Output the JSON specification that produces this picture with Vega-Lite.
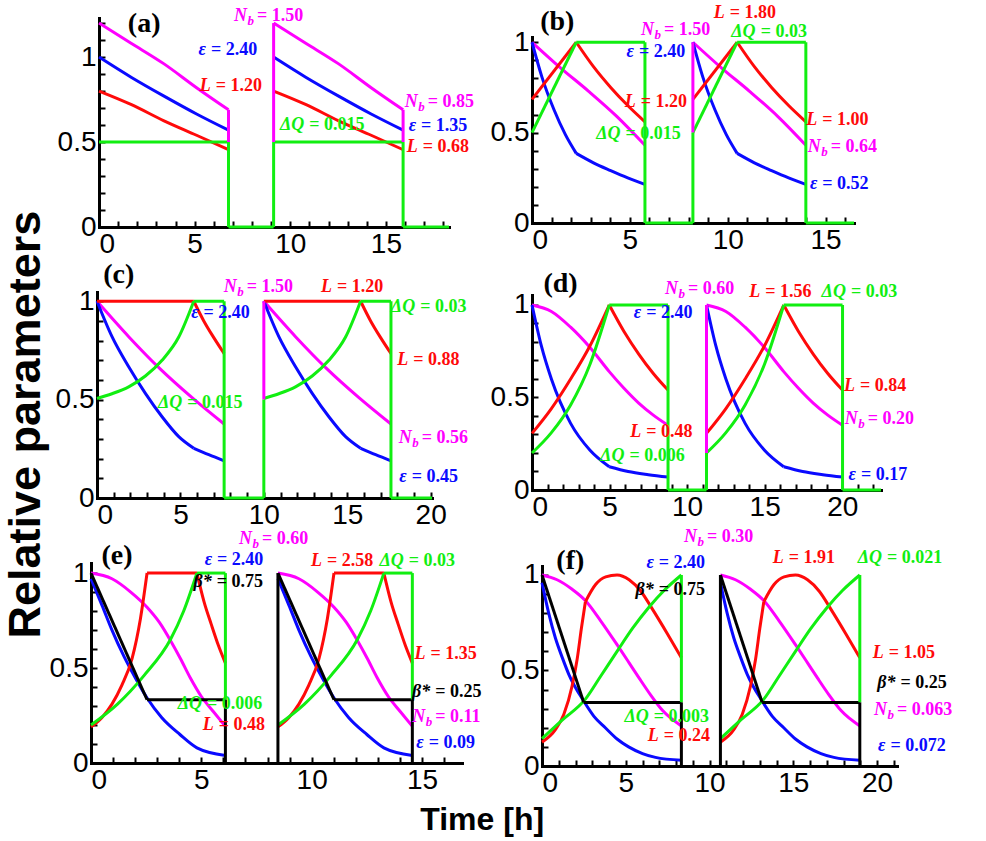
{
"$schema": "https://vega.github.io/schema/vega-lite/v6.json",
"background": "white",
"padding": {"left": 4, "top": 4, "right": 5, "bottom": 5},
"datasets": {
"aL": [
{"s":"Nb","g":1,"t":0,"v":1.2},{"s":"Nb","g":1,"t":1.7,"v":1.08},{"s":"Nb","g":1,"t":3.4,"v":0.96},{"s":"Nb","g":1,"t":5.1,"v":0.82},{"s":"Nb","g":1,"t":6.77,"v":0.69},
{"s":"Nb","g":2,"t":9.13,"v":1.2},{"s":"Nb","g":2,"t":10.83,"v":1.08},{"s":"Nb","g":2,"t":12.53,"v":0.96},{"s":"Nb","g":2,"t":14.23,"v":0.82},{"s":"Nb","g":2,"t":15.9,"v":0.69},
{"s":"eps","g":3,"t":0,"v":1},{"s":"eps","g":3,"t":1.7,"v":0.88},{"s":"eps","g":3,"t":3.4,"v":0.77},{"s":"eps","g":3,"t":5.1,"v":0.665},{"s":"eps","g":3,"t":6.77,"v":0.57},
{"s":"eps","g":4,"t":9.13,"v":1},{"s":"eps","g":4,"t":10.83,"v":0.88},{"s":"eps","g":4,"t":12.53,"v":0.77},{"s":"eps","g":4,"t":14.23,"v":0.665},{"s":"eps","g":4,"t":15.9,"v":0.57},
{"s":"L","g":5,"t":0,"v":0.8},{"s":"L","g":5,"t":1.7,"v":0.72},{"s":"L","g":5,"t":3.4,"v":0.625},{"s":"L","g":5,"t":5.1,"v":0.54},{"s":"L","g":5,"t":6.77,"v":0.455},
{"s":"L","g":6,"t":9.13,"v":0.8},{"s":"L","g":6,"t":10.83,"v":0.72},{"s":"L","g":6,"t":12.53,"v":0.625},{"s":"L","g":6,"t":14.23,"v":0.54},{"s":"L","g":6,"t":15.9,"v":0.455},
{"s":"dQ","g":7,"t":0,"v":0.5},{"s":"dQ","g":7,"t":6.77,"v":0.5},
{"s":"dQ","g":8,"t":6.77,"v":0},{"s":"dQ","g":8,"t":9.13,"v":0},
{"s":"dQ","g":9,"t":9.13,"v":0.5},{"s":"dQ","g":9,"t":15.9,"v":0.5},
{"s":"dQ","g":10,"t":15.9,"v":0},{"s":"dQ","g":10,"t":18.3,"v":0}
],
"aR": [
{"s":"Nb","t":6.77,"v":0.5,"v2":0.69},{"s":"Nb","t":15.9,"v":0.5,"v2":0.69},{"s":"Nb","t":9.13,"v":0.5,"v2":1.2},
{"s":"dQ","t":6.77,"v":0,"v2":0.5},{"s":"dQ","t":9.13,"v":0,"v2":0.5},{"s":"dQ","t":15.9,"v":0,"v2":0.5}
],
"aT": [
{"s":"Nb","p":"N","q":"= 1.50","t":8.26,"v":1.244},
{"s":"eps","p":"ε","q":"= 2.40","t":5.85,"v":1.04},
{"s":"L","p":"L","q":"= 1.20","t":6.11,"v":0.828},
{"s":"dQ","p":"ΔQ","q":"= 0.015","t":10.99,"v":0.6},
{"s":"Nb","p":"N","q":"= 0.85","t":17.19,"v":0.735},
{"s":"eps","p":"ε","q":"= 1.35","t":16.84,"v":0.593},
{"s":"L","p":"L","q":"= 0.68","t":16.93,"v":0.47}
],
"bL": [
{"s":"Nb","g":1,"t":0,"v":1},{"s":"Nb","g":1,"t":1.44,"v":0.86},{"s":"Nb","g":1,"t":2.88,"v":0.73},{"s":"Nb","g":1,"t":4.33,"v":0.59},{"s":"Nb","g":1,"t":5.77,"v":0.43},
{"s":"Nb","g":2,"t":8.22,"v":1},{"s":"Nb","g":2,"t":9.66,"v":0.86},{"s":"Nb","g":2,"t":11.1,"v":0.73},{"s":"Nb","g":2,"t":12.55,"v":0.59},{"s":"Nb","g":2,"t":13.99,"v":0.43},
{"s":"eps","g":3,"t":0,"v":1},{"s":"eps","g":3,"t":0.5,"v":0.81},{"s":"eps","g":3,"t":1.13,"v":0.625},{"s":"eps","g":3,"t":1.7,"v":0.49},{"s":"eps","g":3,"t":2.26,"v":0.385},
{"s":"eps","g":4,"t":2.26,"v":0.385},{"s":"eps","g":4,"t":3.14,"v":0.333},{"s":"eps","g":4,"t":4.02,"v":0.29},{"s":"eps","g":4,"t":4.89,"v":0.25},{"s":"eps","g":4,"t":5.77,"v":0.214},
{"s":"eps","g":5,"t":8.22,"v":1},{"s":"eps","g":5,"t":8.72,"v":0.81},{"s":"eps","g":5,"t":9.35,"v":0.625},{"s":"eps","g":5,"t":9.92,"v":0.49},{"s":"eps","g":5,"t":10.48,"v":0.385},
{"s":"eps","g":6,"t":10.48,"v":0.385},{"s":"eps","g":6,"t":11.36,"v":0.333},{"s":"eps","g":6,"t":12.24,"v":0.29},{"s":"eps","g":6,"t":13.11,"v":0.25},{"s":"eps","g":6,"t":13.99,"v":0.214},
{"s":"L","g":7,"t":0,"v":0.684},{"s":"L","g":7,"t":2.26,"v":1},
{"s":"L","g":8,"t":2.26,"v":1},{"s":"L","g":8,"t":3.14,"v":0.865},{"s":"L","g":8,"t":4.02,"v":0.75},{"s":"L","g":8,"t":4.89,"v":0.65},{"s":"L","g":8,"t":5.77,"v":0.56},
{"s":"L","g":9,"t":8.22,"v":0.684},{"s":"L","g":9,"t":10.48,"v":1},
{"s":"L","g":10,"t":10.48,"v":1},{"s":"L","g":10,"t":11.36,"v":0.865},{"s":"L","g":10,"t":12.24,"v":0.75},{"s":"L","g":10,"t":13.11,"v":0.65},{"s":"L","g":10,"t":13.99,"v":0.56},
{"s":"dQ","g":11,"t":0,"v":0.5},{"s":"dQ","g":11,"t":2.26,"v":1},
{"s":"dQ","g":12,"t":2.26,"v":1},{"s":"dQ","g":12,"t":5.77,"v":1},
{"s":"dQ","g":13,"t":5.77,"v":0},{"s":"dQ","g":13,"t":8.22,"v":0},
{"s":"dQ","g":14,"t":8.22,"v":0.5},{"s":"dQ","g":14,"t":10.48,"v":1},
{"s":"dQ","g":15,"t":10.48,"v":1},{"s":"dQ","g":15,"t":13.99,"v":1},
{"s":"dQ","g":16,"t":13.99,"v":0},{"s":"dQ","g":16,"t":16.45,"v":0}
],
"bR": [
{"s":"Nb","t":8.22,"v":0.5,"v2":1},
{"s":"dQ","t":5.77,"v":0,"v2":1},{"s":"dQ","t":8.22,"v":0,"v2":0.5},{"s":"dQ","t":13.99,"v":0,"v2":1}
],
"bT": [
{"s":"L","p":"L","q":"= 1.80","t":10.1,"v":1.16},
{"s":"Nb","p":"N","q":"= 1.50","t":6.74,"v":1.065},
{"s":"dQ","p":"ΔQ","q":"= 0.03","t":11.68,"v":1.058},
{"s":"eps","p":"ε","q":"= 2.40","t":5.46,"v":0.947},
{"s":"L","p":"L","q":"= 1.20","t":5.55,"v":0.67},
{"s":"dQ","p":"ΔQ","q":"= 0.015","t":4.78,"v":0.491},
{"s":"L","p":"L","q":"= 1.00","t":14.83,"v":0.569},
{"s":"Nb","p":"N","q":"= 0.64","t":15.26,"v":0.421},
{"s":"eps","p":"ε","q":"= 0.52","t":14.83,"v":0.213}
],
"cL": [
{"s":"Nb","g":1,"t":0,"v":1},{"s":"Nb","g":1,"t":1.9,"v":0.82},{"s":"Nb","g":1,"t":3.8,"v":0.655},{"s":"Nb","g":1,"t":5.7,"v":0.51},{"s":"Nb","g":1,"t":7.62,"v":0.376},
{"s":"Nb","g":2,"t":10,"v":1},{"s":"Nb","g":2,"t":11.9,"v":0.82},{"s":"Nb","g":2,"t":13.8,"v":0.655},{"s":"Nb","g":2,"t":15.7,"v":0.51},{"s":"Nb","g":2,"t":17.62,"v":0.376},
{"s":"eps","g":3,"t":0,"v":1},{"s":"eps","g":3,"t":0.9,"v":0.82},{"s":"eps","g":3,"t":1.9,"v":0.667},{"s":"eps","g":3,"t":2.9,"v":0.532},{"s":"eps","g":3,"t":3.9,"v":0.413},{"s":"eps","g":3,"t":4.9,"v":0.312},{"s":"eps","g":3,"t":5.8,"v":0.253},
{"s":"eps","g":4,"t":5.8,"v":0.253},{"s":"eps","g":4,"t":6.7,"v":0.22},{"s":"eps","g":4,"t":7.62,"v":0.189},
{"s":"eps","g":5,"t":10,"v":1},{"s":"eps","g":5,"t":10.9,"v":0.82},{"s":"eps","g":5,"t":11.9,"v":0.667},{"s":"eps","g":5,"t":12.9,"v":0.532},{"s":"eps","g":5,"t":13.9,"v":0.413},{"s":"eps","g":5,"t":14.9,"v":0.312},{"s":"eps","g":5,"t":15.8,"v":0.253},
{"s":"eps","g":6,"t":15.8,"v":0.253},{"s":"eps","g":6,"t":16.7,"v":0.22},{"s":"eps","g":6,"t":17.62,"v":0.189},
{"s":"L","g":7,"t":0,"v":1},{"s":"L","g":7,"t":5.8,"v":1},
{"s":"L","g":8,"t":5.8,"v":1},{"s":"L","g":8,"t":6.4,"v":0.9},{"s":"L","g":8,"t":7,"v":0.815},{"s":"L","g":8,"t":7.62,"v":0.734},
{"s":"L","g":9,"t":10,"v":1},{"s":"L","g":9,"t":15.8,"v":1},
{"s":"L","g":10,"t":15.8,"v":1},{"s":"L","g":10,"t":16.4,"v":0.9},{"s":"L","g":10,"t":17,"v":0.815},{"s":"L","g":10,"t":17.62,"v":0.734},
{"s":"dQ","g":11,"t":0,"v":0.506},{"s":"dQ","g":11,"t":0.9,"v":0.53},{"s":"dQ","g":11,"t":1.9,"v":0.565},{"s":"dQ","g":11,"t":2.9,"v":0.62},{"s":"dQ","g":11,"t":3.9,"v":0.7},{"s":"dQ","g":11,"t":4.9,"v":0.818},{"s":"dQ","g":11,"t":5.8,"v":1},
{"s":"dQ","g":12,"t":5.8,"v":1},{"s":"dQ","g":12,"t":7.62,"v":1},
{"s":"dQ","g":13,"t":7.62,"v":0},{"s":"dQ","g":13,"t":10,"v":0},
{"s":"dQ","g":14,"t":10,"v":0.506},{"s":"dQ","g":14,"t":10.9,"v":0.53},{"s":"dQ","g":14,"t":11.9,"v":0.565},{"s":"dQ","g":14,"t":12.9,"v":0.62},{"s":"dQ","g":14,"t":13.9,"v":0.7},{"s":"dQ","g":14,"t":14.9,"v":0.818},{"s":"dQ","g":14,"t":15.8,"v":1},
{"s":"dQ","g":15,"t":15.8,"v":1},{"s":"dQ","g":15,"t":17.62,"v":1},
{"s":"dQ","g":16,"t":17.62,"v":0},{"s":"dQ","g":16,"t":20.08,"v":0}
],
"cR": [
{"s":"Nb","t":10,"v":0.5,"v2":1},
{"s":"dQ","t":7.62,"v":0,"v2":1},{"s":"dQ","t":10,"v":0,"v2":0.5},{"s":"dQ","t":17.62,"v":0,"v2":1}
],
"cT": [
{"s":"Nb","p":"N","q":"= 1.50","t":8.98,"v":1.071},
{"s":"L","p":"L","q":"= 1.20","t":14.39,"v":1.071},
{"s":"eps","p":"ε","q":"= 2.40","t":6.39,"v":0.939},
{"s":"dQ","p":"ΔQ","q":"= 0.03","t":19.37,"v":0.97},
{"s":"L","p":"L","q":"= 0.88","t":18.96,"v":0.7},
{"s":"dQ","p":"ΔQ","q":"= 0.015","t":5.41,"v":0.481},
{"s":"Nb","p":"N","q":"= 0.56","t":19.46,"v":0.304},
{"s":"eps","p":"ε","q":"= 0.45","t":18.86,"v":0.109}
],
"dL": [
{"s":"Nb","g":1,"t":0,"v":1},{"s":"Nb","g":1,"t":1.25,"v":0.965},{"s":"Nb","g":1,"t":2.49,"v":0.88},{"s":"Nb","g":1,"t":3.74,"v":0.77},{"s":"Nb","g":1,"t":4.98,"v":0.64},{"s":"Nb","g":1,"t":5.93,"v":0.55},{"s":"Nb","g":1,"t":6.88,"v":0.47},{"s":"Nb","g":1,"t":7.82,"v":0.405},{"s":"Nb","g":1,"t":8.77,"v":0.35},
{"s":"Nb","g":9,"t":11.25,"v":1},{"s":"Nb","g":9,"t":12.5,"v":0.965},{"s":"Nb","g":9,"t":13.74,"v":0.88},{"s":"Nb","g":9,"t":14.99,"v":0.77},{"s":"Nb","g":9,"t":16.23,"v":0.64},{"s":"Nb","g":9,"t":17.18,"v":0.55},{"s":"Nb","g":9,"t":18.13,"v":0.47},{"s":"Nb","g":9,"t":19.07,"v":0.405},{"s":"Nb","g":9,"t":20.02,"v":0.35},
{"s":"eps","g":2,"t":0,"v":1},{"s":"eps","g":2,"t":0.6,"v":0.78},{"s":"eps","g":2,"t":1.25,"v":0.6},{"s":"eps","g":2,"t":2.49,"v":0.36},{"s":"eps","g":2,"t":3.74,"v":0.215},{"s":"eps","g":2,"t":4.98,"v":0.126},
{"s":"eps","g":3,"t":4.98,"v":0.126},{"s":"eps","g":3,"t":6.2,"v":0.1},{"s":"eps","g":3,"t":7.5,"v":0.083},{"s":"eps","g":3,"t":8.77,"v":0.07},
{"s":"eps","g":10,"t":11.25,"v":1},{"s":"eps","g":10,"t":11.85,"v":0.78},{"s":"eps","g":10,"t":12.5,"v":0.6},{"s":"eps","g":10,"t":13.74,"v":0.36},{"s":"eps","g":10,"t":14.99,"v":0.215},{"s":"eps","g":10,"t":16.23,"v":0.126},
{"s":"eps","g":11,"t":16.23,"v":0.126},{"s":"eps","g":11,"t":17.45,"v":0.1},{"s":"eps","g":11,"t":18.75,"v":0.083},{"s":"eps","g":11,"t":20.02,"v":0.07},
{"s":"L","g":4,"t":0,"v":0.306},{"s":"L","g":4,"t":1.25,"v":0.44},{"s":"L","g":4,"t":2.49,"v":0.6},{"s":"L","g":4,"t":3.74,"v":0.78},{"s":"L","g":4,"t":4.98,"v":1},
{"s":"L","g":5,"t":4.98,"v":1},{"s":"L","g":5,"t":5.93,"v":0.857},{"s":"L","g":5,"t":6.88,"v":0.735},{"s":"L","g":5,"t":7.82,"v":0.63},{"s":"L","g":5,"t":8.77,"v":0.54},
{"s":"L","g":12,"t":11.25,"v":0.306},{"s":"L","g":12,"t":12.5,"v":0.44},{"s":"L","g":12,"t":13.74,"v":0.6},{"s":"L","g":12,"t":14.99,"v":0.78},{"s":"L","g":12,"t":16.23,"v":1},
{"s":"L","g":13,"t":16.23,"v":1},{"s":"L","g":13,"t":17.18,"v":0.857},{"s":"L","g":13,"t":18.13,"v":0.735},{"s":"L","g":13,"t":19.07,"v":0.63},{"s":"L","g":13,"t":20.02,"v":0.54},
{"s":"dQ","g":6,"t":0,"v":0.2},{"s":"dQ","g":6,"t":1.25,"v":0.31},{"s":"dQ","g":6,"t":2.49,"v":0.46},{"s":"dQ","g":6,"t":3.74,"v":0.68},{"s":"dQ","g":6,"t":4.98,"v":1},
{"s":"dQ","g":7,"t":4.98,"v":1},{"s":"dQ","g":7,"t":8.77,"v":1},
{"s":"dQ","g":8,"t":8.77,"v":0},{"s":"dQ","g":8,"t":11.25,"v":0},
{"s":"dQ","g":14,"t":11.25,"v":0.2},{"s":"dQ","g":14,"t":12.5,"v":0.31},{"s":"dQ","g":14,"t":13.74,"v":0.46},{"s":"dQ","g":14,"t":14.99,"v":0.68},{"s":"dQ","g":14,"t":16.23,"v":1},
{"s":"dQ","g":15,"t":16.23,"v":1},{"s":"dQ","g":15,"t":20.02,"v":1},
{"s":"dQ","g":16,"t":20.02,"v":0},{"s":"dQ","g":16,"t":22.5,"v":0}
],
"dR": [
{"s":"Nb","t":11.25,"v":0.2,"v2":1},
{"s":"dQ","t":8.77,"v":0,"v2":1},{"s":"dQ","t":11.25,"v":0,"v2":0.2},{"s":"dQ","t":20.02,"v":0,"v2":1}
],
"dT": [
{"s":"Nb","p":"N","q":"= 0.60","t":10.06,"v":1.085},
{"s":"L","p":"L","q":"= 1.56","t":15.04,"v":1.072},
{"s":"dQ","p":"ΔQ","q":"= 0.03","t":20.56,"v":1.072},
{"s":"eps","p":"ε","q":"= 2.40","t":7.36,"v":0.955},
{"s":"L","p":"L","q":"= 0.84","t":21.15,"v":0.562},
{"s":"Nb","p":"N","q":"= 0.20","t":21.65,"v":0.382},
{"s":"L","p":"L","q":"= 0.48","t":7.36,"v":0.316},
{"s":"dQ","p":"ΔQ","q":"= 0.006","t":6.28,"v":0.184},
{"s":"eps","p":"ε","q":"= 0.17","t":21.21,"v":0.081}
],
"eL": [
{"s":"Nb","g":1,"t":0,"v":1},{"s":"Nb","g":1,"t":0.95,"v":0.97},{"s":"Nb","g":1,"t":1.8,"v":0.9},{"s":"Nb","g":1,"t":2.54,"v":0.82},{"s":"Nb","g":1,"t":3.1,"v":0.74},{"s":"Nb","g":1,"t":3.6,"v":0.645},{"s":"Nb","g":1,"t":4.05,"v":0.55},{"s":"Nb","g":1,"t":4.49,"v":0.45},{"s":"Nb","g":1,"t":5,"v":0.35},{"s":"Nb","g":1,"t":5.55,"v":0.27},{"s":"Nb","g":1,"t":6.09,"v":0.193},
{"s":"Nb","g":10,"t":8.47,"v":1},{"s":"Nb","g":10,"t":9.42,"v":0.97},{"s":"Nb","g":10,"t":10.27,"v":0.9},{"s":"Nb","g":10,"t":11.01,"v":0.82},{"s":"Nb","g":10,"t":11.57,"v":0.74},{"s":"Nb","g":10,"t":12.07,"v":0.645},{"s":"Nb","g":10,"t":12.52,"v":0.55},{"s":"Nb","g":10,"t":12.96,"v":0.45},{"s":"Nb","g":10,"t":13.47,"v":0.35},{"s":"Nb","g":10,"t":14.02,"v":0.27},{"s":"Nb","g":10,"t":14.56,"v":0.193},
{"s":"eps","g":2,"t":0,"v":0.97},{"s":"eps","g":2,"t":0.5,"v":0.83},{"s":"eps","g":2,"t":0.95,"v":0.7},{"s":"eps","g":2,"t":1.5,"v":0.56},{"s":"eps","g":2,"t":2,"v":0.45},{"s":"eps","g":2,"t":2.54,"v":0.342},{"s":"eps","g":2,"t":3.2,"v":0.24},{"s":"eps","g":2,"t":4.03,"v":0.15},{"s":"eps","g":2,"t":4.8,"v":0.08},{"s":"eps","g":2,"t":6.09,"v":0.04},
{"s":"eps","g":11,"t":8.47,"v":0.97},{"s":"eps","g":11,"t":8.97,"v":0.83},{"s":"eps","g":11,"t":9.42,"v":0.7},{"s":"eps","g":11,"t":9.97,"v":0.56},{"s":"eps","g":11,"t":10.47,"v":0.45},{"s":"eps","g":11,"t":11.01,"v":0.342},{"s":"eps","g":11,"t":11.67,"v":0.24},{"s":"eps","g":11,"t":12.5,"v":0.15},{"s":"eps","g":11,"t":13.27,"v":0.08},{"s":"eps","g":11,"t":14.56,"v":0.04},
{"s":"L","g":3,"t":0,"v":0.19},{"s":"L","g":3,"t":0.5,"v":0.24},{"s":"L","g":3,"t":0.95,"v":0.31},{"s":"L","g":3,"t":1.4,"v":0.41},{"s":"L","g":3,"t":1.86,"v":0.55},{"s":"L","g":3,"t":2.24,"v":0.76},{"s":"L","g":3,"t":2.54,"v":1},
{"s":"L","g":4,"t":2.54,"v":1},{"s":"L","g":4,"t":4.8,"v":1},
{"s":"L","g":5,"t":4.8,"v":1},{"s":"L","g":5,"t":5.12,"v":0.85},{"s":"L","g":5,"t":5.45,"v":0.73},{"s":"L","g":5,"t":5.77,"v":0.62},{"s":"L","g":5,"t":6.09,"v":0.526},
{"s":"L","g":12,"t":8.47,"v":0.19},{"s":"L","g":12,"t":8.97,"v":0.24},{"s":"L","g":12,"t":9.42,"v":0.31},{"s":"L","g":12,"t":9.87,"v":0.41},{"s":"L","g":12,"t":10.33,"v":0.55},{"s":"L","g":12,"t":10.71,"v":0.76},{"s":"L","g":12,"t":11.01,"v":1},
{"s":"L","g":13,"t":11.01,"v":1},{"s":"L","g":13,"t":13.27,"v":1},
{"s":"L","g":14,"t":13.27,"v":1},{"s":"L","g":14,"t":13.59,"v":0.85},{"s":"L","g":14,"t":13.92,"v":0.73},{"s":"L","g":14,"t":14.24,"v":0.62},{"s":"L","g":14,"t":14.56,"v":0.526},
{"s":"dQ","g":6,"t":0,"v":0.2},{"s":"dQ","g":6,"t":1.2,"v":0.31},{"s":"dQ","g":6,"t":2.4,"v":0.46},{"s":"dQ","g":6,"t":3.6,"v":0.65},{"s":"dQ","g":6,"t":4.2,"v":0.8},{"s":"dQ","g":6,"t":4.8,"v":1},
{"s":"dQ","g":7,"t":4.8,"v":1},{"s":"dQ","g":7,"t":6.09,"v":1},
{"s":"dQ","g":15,"t":8.47,"v":0.2},{"s":"dQ","g":15,"t":9.67,"v":0.31},{"s":"dQ","g":15,"t":10.87,"v":0.46},{"s":"dQ","g":15,"t":12.07,"v":0.65},{"s":"dQ","g":15,"t":12.67,"v":0.8},{"s":"dQ","g":15,"t":13.27,"v":1},
{"s":"dQ","g":16,"t":13.27,"v":1},{"s":"dQ","g":16,"t":14.56,"v":1},
{"s":"beta","g":8,"t":0,"v":1},{"s":"beta","g":8,"t":2.54,"v":0.333},
{"s":"beta","g":9,"t":2.54,"v":0.333},{"s":"beta","g":9,"t":6.09,"v":0.333},
{"s":"beta","g":17,"t":8.47,"v":1},{"s":"beta","g":17,"t":11.01,"v":0.333},
{"s":"beta","g":18,"t":11.01,"v":0.333},{"s":"beta","g":18,"t":14.56,"v":0.333}
],
"eR": [
{"s":"dQ","t":6.09,"v":0.333,"v2":1},{"s":"dQ","t":14.56,"v":0.333,"v2":1},
{"s":"beta","t":6.09,"v":0,"v2":0.333},{"s":"beta","t":8.47,"v":0,"v2":1},{"s":"beta","t":14.56,"v":0,"v2":0.333}
],
"eT": [
{"s":"Nb","p":"N","q":"= 0.60","t":7.75,"v":1.18},
{"s":"eps","p":"ε","q":"= 2.40","t":5.71,"v":1.068},
{"s":"beta","p":"β*","q":"= 0.75","t":5.7,"v":0.955},
{"s":"L","p":"L","q":"= 2.58","t":10.69,"v":1.061},
{"s":"dQ","p":"ΔQ","q":"= 0.03","t":14.4,"v":1.061},
{"s":"L","p":"L","q":"= 1.35","t":15.38,"v":0.574},
{"s":"dQ","p":"ΔQ","q":"= 0.006","t":5.26,"v":0.311},
{"s":"L","p":"L","q":"= 0.48","t":5.79,"v":0.2},
{"s":"beta","p":"β*","q":"= 0.25","t":15.6,"v":0.374},
{"s":"Nb","p":"N","q":"= 0.11","t":15.6,"v":0.24},
{"s":"eps","p":"ε","q":"= 0.09","t":15.3,"v":0.105}
],
"fL": [
{"s":"Nb","g":1,"t":0,"v":1},{"s":"Nb","g":1,"t":0.9,"v":0.975},{"s":"Nb","g":1,"t":1.8,"v":0.925},{"s":"Nb","g":1,"t":2.6,"v":0.865},{"s":"Nb","g":1,"t":3.5,"v":0.76},{"s":"Nb","g":1,"t":4.48,"v":0.635},{"s":"Nb","g":1,"t":5.2,"v":0.54},{"s":"Nb","g":1,"t":5.8,"v":0.46},{"s":"Nb","g":1,"t":6.5,"v":0.37},{"s":"Nb","g":1,"t":7.2,"v":0.29},{"s":"Nb","g":1,"t":8.32,"v":0.21},
{"s":"Nb","g":8,"t":10.65,"v":1},{"s":"Nb","g":8,"t":11.55,"v":0.975},{"s":"Nb","g":8,"t":12.45,"v":0.925},{"s":"Nb","g":8,"t":13.25,"v":0.865},{"s":"Nb","g":8,"t":14.15,"v":0.76},{"s":"Nb","g":8,"t":15.13,"v":0.635},{"s":"Nb","g":8,"t":15.85,"v":0.54},{"s":"Nb","g":8,"t":16.45,"v":0.46},{"s":"Nb","g":8,"t":17.15,"v":0.37},{"s":"Nb","g":8,"t":17.85,"v":0.29},{"s":"Nb","g":8,"t":18.97,"v":0.21},
{"s":"eps","g":2,"t":0,"v":0.96},{"s":"eps","g":2,"t":0.4,"v":0.8},{"s":"eps","g":2,"t":0.8,"v":0.67},{"s":"eps","g":2,"t":1.2,"v":0.57},{"s":"eps","g":2,"t":1.6,"v":0.48},{"s":"eps","g":2,"t":2.49,"v":0.34},{"s":"eps","g":2,"t":3.1,"v":0.26},{"s":"eps","g":2,"t":3.78,"v":0.2},{"s":"eps","g":2,"t":4.5,"v":0.14},{"s":"eps","g":2,"t":5.17,"v":0.1},{"s":"eps","g":2,"t":6,"v":0.065},{"s":"eps","g":2,"t":6.77,"v":0.045},{"s":"eps","g":2,"t":8.32,"v":0.03},
{"s":"eps","g":9,"t":10.65,"v":0.96},{"s":"eps","g":9,"t":11.05,"v":0.8},{"s":"eps","g":9,"t":11.45,"v":0.67},{"s":"eps","g":9,"t":11.85,"v":0.57},{"s":"eps","g":9,"t":12.25,"v":0.48},{"s":"eps","g":9,"t":13.14,"v":0.34},{"s":"eps","g":9,"t":13.75,"v":0.26},{"s":"eps","g":9,"t":14.43,"v":0.2},{"s":"eps","g":9,"t":15.15,"v":0.14},{"s":"eps","g":9,"t":15.82,"v":0.1},{"s":"eps","g":9,"t":16.65,"v":0.065},{"s":"eps","g":9,"t":17.42,"v":0.045},{"s":"eps","g":9,"t":18.97,"v":0.03},
{"s":"L","g":3,"t":0,"v":0.125},{"s":"L","g":3,"t":0.8,"v":0.19},{"s":"L","g":3,"t":1.3,"v":0.27},{"s":"L","g":3,"t":1.8,"v":0.42},{"s":"L","g":3,"t":2.1,"v":0.56},{"s":"L","g":3,"t":2.35,"v":0.72},{"s":"L","g":3,"t":2.59,"v":0.86},
{"s":"L","g":4,"t":2.59,"v":0.86},{"s":"L","g":4,"t":3.2,"v":0.95},{"s":"L","g":4,"t":3.8,"v":0.99},{"s":"L","g":4,"t":4.48,"v":1},{"s":"L","g":4,"t":5.2,"v":0.975},{"s":"L","g":4,"t":5.9,"v":0.915},{"s":"L","g":4,"t":6.6,"v":0.82},{"s":"L","g":4,"t":7.5,"v":0.69},{"s":"L","g":4,"t":8.32,"v":0.567},
{"s":"L","g":10,"t":10.65,"v":0.125},{"s":"L","g":10,"t":11.45,"v":0.19},{"s":"L","g":10,"t":11.95,"v":0.27},{"s":"L","g":10,"t":12.45,"v":0.42},{"s":"L","g":10,"t":12.75,"v":0.56},{"s":"L","g":10,"t":13,"v":0.72},{"s":"L","g":10,"t":13.24,"v":0.86},
{"s":"L","g":11,"t":13.24,"v":0.86},{"s":"L","g":11,"t":13.85,"v":0.95},{"s":"L","g":11,"t":14.45,"v":0.99},{"s":"L","g":11,"t":15.13,"v":1},{"s":"L","g":11,"t":15.85,"v":0.975},{"s":"L","g":11,"t":16.55,"v":0.915},{"s":"L","g":11,"t":17.25,"v":0.82},{"s":"L","g":11,"t":18.15,"v":0.69},{"s":"L","g":11,"t":18.97,"v":0.567},
{"s":"dQ","g":5,"t":0,"v":0.143},{"s":"dQ","g":5,"t":1.2,"v":0.24},{"s":"dQ","g":5,"t":2.59,"v":0.35},{"s":"dQ","g":5,"t":3.5,"v":0.47},{"s":"dQ","g":5,"t":4.48,"v":0.6},{"s":"dQ","g":5,"t":5.4,"v":0.72},{"s":"dQ","g":5,"t":6.37,"v":0.83},{"s":"dQ","g":5,"t":7.3,"v":0.92},{"s":"dQ","g":5,"t":8.32,"v":1},
{"s":"dQ","g":12,"t":10.65,"v":0.143},{"s":"dQ","g":12,"t":11.85,"v":0.24},{"s":"dQ","g":12,"t":13.24,"v":0.35},{"s":"dQ","g":12,"t":14.15,"v":0.47},{"s":"dQ","g":12,"t":15.13,"v":0.6},{"s":"dQ","g":12,"t":16.05,"v":0.72},{"s":"dQ","g":12,"t":17.02,"v":0.83},{"s":"dQ","g":12,"t":17.95,"v":0.92},{"s":"dQ","g":12,"t":18.97,"v":1},
{"s":"beta","g":6,"t":0,"v":1},{"s":"beta","g":6,"t":2.49,"v":0.333},
{"s":"beta","g":7,"t":2.49,"v":0.333},{"s":"beta","g":7,"t":8.32,"v":0.333},
{"s":"beta","g":13,"t":10.65,"v":1},{"s":"beta","g":13,"t":13.14,"v":0.333},
{"s":"beta","g":14,"t":13.14,"v":0.333},{"s":"beta","g":14,"t":18.97,"v":0.333}
],
"fR": [
{"s":"dQ","t":8.32,"v":0.333,"v2":1},{"s":"dQ","t":18.97,"v":0.333,"v2":1},
{"s":"beta","t":8.32,"v":0,"v2":0.333},{"s":"beta","t":10.65,"v":0,"v2":1},{"s":"beta","t":18.97,"v":0,"v2":0.333}
],
"fT": [
{"s":"Nb","p":"N","q":"= 0.30","t":9.85,"v":1.198},
{"s":"eps","p":"ε","q":"= 2.40","t":6.97,"v":1.064},
{"s":"beta","p":"β*","q":"= 0.75","t":6.97,"v":0.92},
{"s":"L","p":"L","q":"= 1.91","t":14.73,"v":1.089},
{"s":"dQ","p":"ΔQ","q":"= 0.021","t":20.6,"v":1.089},
{"s":"L","p":"L","q":"= 1.05","t":20.7,"v":0.593},
{"s":"beta","p":"β*","q":"= 0.25","t":21.4,"v":0.436},
{"s":"Nb","p":"N","q":"= 0.063","t":21.19,"v":0.291},
{"s":"eps","p":"ε","q":"= 0.072","t":20.8,"v":0.105},
{"s":"dQ","p":"ΔQ","q":"= 0.003","t":6.67,"v":0.256},
{"s":"L","p":"L","q":"= 0.24","t":7.27,"v":0.157}
]
},
"title": {"text": "Time [h]", "orient": "bottom", "anchor": "middle", "font": "Liberation Sans", "fontSize": 32, "fontWeight": "bold", "color": "#000000", "offset": 8, "dx": 4},
"vconcat": [
{
"title": {"text": "Relative parameters", "orient": "left", "anchor": "middle", "font": "Liberation Sans", "fontSize": 45, "fontWeight": "bold", "color": "#000000", "offset": 0, "dx": -24},
"columns": 2,
"bounds": "flush",
"spacing": {"row": 65, "column": 70},
"resolve": {"scale": {"x": "independent", "y": "independent"}},
"concat": [
{
"width": 358, "height": 209,
"resolve": {"axis": {"x": "independent", "y": "independent"}},
"layer": [
{"data": {"name": "aL"}, "mark": {"type": "line", "interpolate": "monotone", "strokeWidth": 3},
 "encoding": {
  "x": {"field": "t", "type": "quantitative", "scale": {"domain": [0, 18.3], "range": [8, 358], "nice": false, "zero": false}, "axis": {"ticks": false, "labelOverlap": false, "values": [0,5,10,15], "labelExpr": "datum.value + ''"}},
  "y": {"field": "v", "type": "quantitative", "scale": {"domain": [0, 1.23], "nice": false, "zero": false}, "axis": {"ticks": false, "labelOverlap": false, "offset": -8, "values": [0,0.5,1], "labelExpr": "datum.value + ''"}},
  "color": {"field": "s", "type": "nominal", "scale": {"domain": ["Nb","eps","L","dQ","beta"], "range": ["#ff00ff","#0a0aff","#ff0a0a","#11ee11","#000000"]}, "legend": null},
  "detail": {"field": "g", "type": "nominal"}}},
{"data": {"name": "aR"}, "mark": {"type": "rule", "strokeWidth": 3},
 "encoding": {"x": {"field": "t", "type": "quantitative", "axis": {"orient": "top", "offset": -209, "labels": false, "domain": false, "tickSize": 6, "values": [0,1,2,3,4,5,6,7,8,9,10,11,12,13,14,15,16,17,18]}}, "y": {"field": "v", "type": "quantitative", "axis": {"orient": "right", "offset": -350, "labels": false, "domain": false, "tickSize": 6, "values": [0,0.1,0.2,0.3,0.4,0.5,0.6,0.7,0.8,0.9,1,1.1,1.2]}}, "y2": {"field": "v2"}, "color": {"field": "s", "type": "nominal", "legend": null}}},
{"data": {"name": "aT"}, "transform": [{"filter": "datum.s != 'Nb'"}], "mark": {"type": "text", "align": "right", "baseline": "middle", "dx": -5, "font": "Liberation Serif", "fontSize": 18, "fontWeight": "bold", "fontStyle": "italic"},
 "encoding": {"x": {"field": "t", "type": "quantitative", "axis": null}, "y": {"field": "v", "type": "quantitative", "axis": null}, "text": {"field": "p"}, "color": {"field": "s", "type": "nominal", "legend": null}}},
{"data": {"name": "aT"}, "transform": [{"filter": "datum.s == 'Nb'"}], "mark": {"type": "text", "align": "right", "baseline": "middle", "dx": -10, "font": "Liberation Serif", "fontSize": 18, "fontWeight": "bold", "fontStyle": "italic"},
 "encoding": {"x": {"field": "t", "type": "quantitative", "axis": null}, "y": {"field": "v", "type": "quantitative", "axis": null}, "text": {"field": "p"}, "color": {"field": "s", "type": "nominal", "legend": null}}},
{"data": {"name": "aT"}, "transform": [{"filter": "datum.s == 'Nb'"}], "mark": {"type": "text", "align": "right", "baseline": "middle", "dx": -3, "dy": 5, "font": "Liberation Serif", "fontSize": 13, "fontWeight": "bold", "fontStyle": "italic"},
 "encoding": {"x": {"field": "t", "type": "quantitative", "axis": null}, "y": {"field": "v", "type": "quantitative", "axis": null}, "text": {"value": "b"}, "color": {"field": "s", "type": "nominal", "legend": null}}},
{"data": {"name": "aT"}, "mark": {"type": "text", "align": "left", "baseline": "middle", "font": "Liberation Serif", "fontSize": 18, "fontWeight": "bold"},
 "encoding": {"x": {"field": "t", "type": "quantitative", "axis": null}, "y": {"field": "v", "type": "quantitative", "axis": null}, "text": {"field": "q"}, "color": {"field": "s", "type": "nominal", "legend": null}}},
{"data": {"values": [{"p": "(a)", "t": 2.36, "v": 1.196}]}, "mark": {"type": "text", "align": "center", "baseline": "middle", "font": "Liberation Serif", "fontSize": 28, "fontWeight": "bold", "color": "#000000"},
 "encoding": {"x": {"field": "t", "type": "quantitative", "axis": null}, "y": {"field": "v", "type": "quantitative", "axis": null}, "text": {"field": "p"}}}
]
},
{
"width": 322, "height": 205,
"resolve": {"axis": {"x": "independent", "y": "independent"}},
"layer": [
{"data": {"name": "bL"}, "mark": {"type": "line", "interpolate": "monotone", "strokeWidth": 3},
 "encoding": {
  "x": {"field": "t", "type": "quantitative", "scale": {"domain": [0, 16.45], "nice": false, "zero": false}, "axis": {"ticks": false, "labelOverlap": false, "values": [0,5,10,15], "labelExpr": "datum.value + ''"}},
  "y": {"field": "v", "type": "quantitative", "scale": {"domain": [0, 1.029], "range": [205, 19], "nice": false, "zero": false}, "axis": {"ticks": false, "labelOverlap": false, "values": [0,0.5,1], "labelExpr": "datum.value + ''"}},
  "color": {"field": "s", "type": "nominal", "scale": {"domain": ["Nb","eps","L","dQ","beta"], "range": ["#ff00ff","#0a0aff","#ff0a0a","#11ee11","#000000"]}, "legend": null},
  "detail": {"field": "g", "type": "nominal"}}},
{"data": {"name": "bR"}, "mark": {"type": "rule", "strokeWidth": 3},
 "encoding": {"x": {"field": "t", "type": "quantitative", "axis": {"orient": "top", "offset": -205, "labels": false, "domain": false, "tickSize": 6, "values": [0,1,2,3,4,5,6,7,8,9,10,11,12,13,14,15,16]}}, "y": {"field": "v", "type": "quantitative", "axis": {"orient": "right", "offset": -322, "labels": false, "domain": false, "tickSize": 6, "values": [0,0.1,0.2,0.3,0.4,0.5,0.6,0.7,0.8,0.9,1]}}, "y2": {"field": "v2"}, "color": {"field": "s", "type": "nominal", "legend": null}}},
{"data": {"name": "bT"}, "transform": [{"filter": "datum.s != 'Nb'"}], "mark": {"type": "text", "align": "right", "baseline": "middle", "dx": -5, "font": "Liberation Serif", "fontSize": 18, "fontWeight": "bold", "fontStyle": "italic"},
 "encoding": {"x": {"field": "t", "type": "quantitative", "axis": null}, "y": {"field": "v", "type": "quantitative", "axis": null}, "text": {"field": "p"}, "color": {"field": "s", "type": "nominal", "legend": null}}},
{"data": {"name": "bT"}, "transform": [{"filter": "datum.s == 'Nb'"}], "mark": {"type": "text", "align": "right", "baseline": "middle", "dx": -10, "font": "Liberation Serif", "fontSize": 18, "fontWeight": "bold", "fontStyle": "italic"},
 "encoding": {"x": {"field": "t", "type": "quantitative", "axis": null}, "y": {"field": "v", "type": "quantitative", "axis": null}, "text": {"field": "p"}, "color": {"field": "s", "type": "nominal", "legend": null}}},
{"data": {"name": "bT"}, "transform": [{"filter": "datum.s == 'Nb'"}], "mark": {"type": "text", "align": "right", "baseline": "middle", "dx": -3, "dy": 5, "font": "Liberation Serif", "fontSize": 13, "fontWeight": "bold", "fontStyle": "italic"},
 "encoding": {"x": {"field": "t", "type": "quantitative", "axis": null}, "y": {"field": "v", "type": "quantitative", "axis": null}, "text": {"value": "b"}, "color": {"field": "s", "type": "nominal", "legend": null}}},
{"data": {"name": "bT"}, "mark": {"type": "text", "align": "left", "baseline": "middle", "font": "Liberation Serif", "fontSize": 18, "fontWeight": "bold"},
 "encoding": {"x": {"field": "t", "type": "quantitative", "axis": null}, "y": {"field": "v", "type": "quantitative", "axis": null}, "text": {"field": "q"}, "color": {"field": "s", "type": "nominal", "legend": null}}},
{"data": {"values": [{"p": "(b)", "t": 1.29, "v": 1.114}]}, "mark": {"type": "text", "align": "center", "baseline": "middle", "font": "Liberation Serif", "fontSize": 28, "fontWeight": "bold", "color": "#000000"},
 "encoding": {"x": {"field": "t", "type": "quantitative", "axis": null}, "y": {"field": "v", "type": "quantitative", "axis": null}, "text": {"field": "p"}}}
]
},
{
"width": 341, "height": 206,
"resolve": {"axis": {"x": "independent", "y": "independent"}},
"layer": [
{"data": {"name": "cL"}, "mark": {"type": "line", "interpolate": "monotone", "strokeWidth": 3},
 "encoding": {
  "x": {"field": "t", "type": "quantitative", "scale": {"domain": [0, 20.08], "range": [6, 341], "nice": false, "zero": false}, "axis": {"ticks": false, "labelOverlap": false, "values": [0,5,10,15,20], "labelExpr": "datum.value + ''"}},
  "y": {"field": "v", "type": "quantitative", "scale": {"domain": [0, 1.047], "nice": false, "zero": false}, "axis": {"ticks": false, "labelOverlap": false, "offset": -6, "values": [0,0.5,1], "labelExpr": "datum.value + ''"}},
  "color": {"field": "s", "type": "nominal", "scale": {"domain": ["Nb","eps","L","dQ","beta"], "range": ["#ff00ff","#0a0aff","#ff0a0a","#11ee11","#000000"]}, "legend": null},
  "detail": {"field": "g", "type": "nominal"}}},
{"data": {"name": "cR"}, "mark": {"type": "rule", "strokeWidth": 3},
 "encoding": {"x": {"field": "t", "type": "quantitative", "axis": {"orient": "top", "offset": -206, "labels": false, "domain": false, "tickSize": 6, "values": [0,1,2,3,4,5,6,7,8,9,10,11,12,13,14,15,16,17,18,19,20]}}, "y": {"field": "v", "type": "quantitative", "axis": {"orient": "right", "offset": -335, "labels": false, "domain": false, "tickSize": 6, "values": [0,0.1,0.2,0.3,0.4,0.5,0.6,0.7,0.8,0.9,1]}}, "y2": {"field": "v2"}, "color": {"field": "s", "type": "nominal", "legend": null}}},
{"data": {"name": "cT"}, "transform": [{"filter": "datum.s != 'Nb'"}], "mark": {"type": "text", "align": "right", "baseline": "middle", "dx": -5, "font": "Liberation Serif", "fontSize": 18, "fontWeight": "bold", "fontStyle": "italic"},
 "encoding": {"x": {"field": "t", "type": "quantitative", "axis": null}, "y": {"field": "v", "type": "quantitative", "axis": null}, "text": {"field": "p"}, "color": {"field": "s", "type": "nominal", "legend": null}}},
{"data": {"name": "cT"}, "transform": [{"filter": "datum.s == 'Nb'"}], "mark": {"type": "text", "align": "right", "baseline": "middle", "dx": -10, "font": "Liberation Serif", "fontSize": 18, "fontWeight": "bold", "fontStyle": "italic"},
 "encoding": {"x": {"field": "t", "type": "quantitative", "axis": null}, "y": {"field": "v", "type": "quantitative", "axis": null}, "text": {"field": "p"}, "color": {"field": "s", "type": "nominal", "legend": null}}},
{"data": {"name": "cT"}, "transform": [{"filter": "datum.s == 'Nb'"}], "mark": {"type": "text", "align": "right", "baseline": "middle", "dx": -3, "dy": 5, "font": "Liberation Serif", "fontSize": 13, "fontWeight": "bold", "fontStyle": "italic"},
 "encoding": {"x": {"field": "t", "type": "quantitative", "axis": null}, "y": {"field": "v", "type": "quantitative", "axis": null}, "text": {"value": "b"}, "color": {"field": "s", "type": "nominal", "legend": null}}},
{"data": {"name": "cT"}, "mark": {"type": "text", "align": "left", "baseline": "middle", "font": "Liberation Serif", "fontSize": 18, "fontWeight": "bold"},
 "encoding": {"x": {"field": "t", "type": "quantitative", "axis": null}, "y": {"field": "v", "type": "quantitative", "axis": null}, "text": {"field": "q"}, "color": {"field": "s", "type": "nominal", "legend": null}}},
{"data": {"values": [{"p": "(c)", "t": 1.3, "v": 1.131}]}, "mark": {"type": "text", "align": "center", "baseline": "middle", "font": "Liberation Serif", "fontSize": 28, "fontWeight": "bold", "color": "#000000"},
 "encoding": {"x": {"field": "t", "type": "quantitative", "axis": null}, "y": {"field": "v", "type": "quantitative", "axis": null}, "text": {"field": "p"}}}
]
},
{
"width": 349, "height": 198,
"resolve": {"axis": {"x": "independent", "y": "independent"}},
"layer": [
{"data": {"name": "dL"}, "mark": {"type": "line", "interpolate": "monotone", "strokeWidth": 3},
 "encoding": {
  "x": {"field": "t", "type": "quantitative", "scale": {"domain": [0, 22.5], "nice": false, "zero": false}, "axis": {"ticks": false, "labelOverlap": false, "values": [0,5,10,15,20], "labelExpr": "datum.value + ''"}},
  "y": {"field": "v", "type": "quantitative", "scale": {"domain": [0, 1.054], "range": [198, 3], "nice": false, "zero": false}, "axis": {"ticks": false, "labelOverlap": false, "values": [0,0.5,1], "labelExpr": "datum.value + ''"}},
  "color": {"field": "s", "type": "nominal", "scale": {"domain": ["Nb","eps","L","dQ","beta"], "range": ["#ff00ff","#0a0aff","#ff0a0a","#11ee11","#000000"]}, "legend": null},
  "detail": {"field": "g", "type": "nominal"}}},
{"data": {"name": "dR"}, "mark": {"type": "rule", "strokeWidth": 3},
 "encoding": {"x": {"field": "t", "type": "quantitative", "axis": {"orient": "top", "offset": -198, "labels": false, "domain": false, "tickSize": 6, "values": [0,1,2,3,4,5,6,7,8,9,10,11,12,13,14,15,16,17,18,19,20,21,22]}}, "y": {"field": "v", "type": "quantitative", "axis": {"orient": "right", "offset": -349, "labels": false, "domain": false, "tickSize": 6, "values": [0,0.1,0.2,0.3,0.4,0.5,0.6,0.7,0.8,0.9,1]}}, "y2": {"field": "v2"}, "color": {"field": "s", "type": "nominal", "legend": null}}},
{"data": {"name": "dT"}, "transform": [{"filter": "datum.s != 'Nb'"}], "mark": {"type": "text", "align": "right", "baseline": "middle", "dx": -5, "font": "Liberation Serif", "fontSize": 18, "fontWeight": "bold", "fontStyle": "italic"},
 "encoding": {"x": {"field": "t", "type": "quantitative", "axis": null}, "y": {"field": "v", "type": "quantitative", "axis": null}, "text": {"field": "p"}, "color": {"field": "s", "type": "nominal", "legend": null}}},
{"data": {"name": "dT"}, "transform": [{"filter": "datum.s == 'Nb'"}], "mark": {"type": "text", "align": "right", "baseline": "middle", "dx": -10, "font": "Liberation Serif", "fontSize": 18, "fontWeight": "bold", "fontStyle": "italic"},
 "encoding": {"x": {"field": "t", "type": "quantitative", "axis": null}, "y": {"field": "v", "type": "quantitative", "axis": null}, "text": {"field": "p"}, "color": {"field": "s", "type": "nominal", "legend": null}}},
{"data": {"name": "dT"}, "transform": [{"filter": "datum.s == 'Nb'"}], "mark": {"type": "text", "align": "right", "baseline": "middle", "dx": -3, "dy": 5, "font": "Liberation Serif", "fontSize": 13, "fontWeight": "bold", "fontStyle": "italic"},
 "encoding": {"x": {"field": "t", "type": "quantitative", "axis": null}, "y": {"field": "v", "type": "quantitative", "axis": null}, "text": {"value": "b"}, "color": {"field": "s", "type": "nominal", "legend": null}}},
{"data": {"name": "dT"}, "mark": {"type": "text", "align": "left", "baseline": "middle", "font": "Liberation Serif", "fontSize": 18, "fontWeight": "bold"},
 "encoding": {"x": {"field": "t", "type": "quantitative", "axis": null}, "y": {"field": "v", "type": "quantitative", "axis": null}, "text": {"field": "q"}, "color": {"field": "s", "type": "nominal", "legend": null}}},
{"data": {"values": [{"p": "(d)", "t": 1.84, "v": 1.114}]}, "mark": {"type": "text", "align": "center", "baseline": "middle", "font": "Liberation Serif", "fontSize": 28, "fontWeight": "bold", "color": "#000000"},
 "encoding": {"x": {"field": "t", "type": "quantitative", "axis": null}, "y": {"field": "v", "type": "quantitative", "axis": null}, "text": {"field": "p"}}}
]
},
{
"width": 371, "height": 200,
"resolve": {"axis": {"x": "independent", "y": "independent"}},
"layer": [
{"data": {"name": "eL"}, "mark": {"type": "line", "interpolate": "monotone", "strokeWidth": 3},
 "encoding": {
  "x": {"field": "t", "type": "quantitative", "scale": {"domain": [0, 16.81], "nice": false, "zero": false}, "axis": {"ticks": false, "labelOverlap": false, "values": [0,5,10,15], "labelExpr": "datum.value + ''"}},
  "y": {"field": "v", "type": "quantitative", "scale": {"domain": [0, 1.053], "nice": false, "zero": false}, "axis": {"ticks": false, "labelOverlap": false, "values": [0,0.5,1], "labelExpr": "datum.value + ''"}},
  "color": {"field": "s", "type": "nominal", "scale": {"domain": ["Nb","eps","L","dQ","beta"], "range": ["#ff00ff","#0a0aff","#ff0a0a","#11ee11","#000000"]}, "legend": null},
  "detail": {"field": "g", "type": "nominal"}}},
{"data": {"name": "eR"}, "mark": {"type": "rule", "strokeWidth": 3},
 "encoding": {"x": {"field": "t", "type": "quantitative", "axis": {"orient": "top", "offset": -200, "labels": false, "domain": false, "tickSize": 6, "values": [0,1,2,3,4,5,6,7,8,9,10,11,12,13,14,15,16]}}, "y": {"field": "v", "type": "quantitative", "axis": {"orient": "right", "offset": -371, "labels": false, "domain": false, "tickSize": 6, "values": [0,0.1,0.2,0.3,0.4,0.5,0.6,0.7,0.8,0.9,1]}}, "y2": {"field": "v2"}, "color": {"field": "s", "type": "nominal", "legend": null}}},
{"data": {"name": "eT"}, "transform": [{"filter": "datum.s != 'Nb'"}], "mark": {"type": "text", "align": "right", "baseline": "middle", "dx": -5, "font": "Liberation Serif", "fontSize": 18, "fontWeight": "bold", "fontStyle": "italic"},
 "encoding": {"x": {"field": "t", "type": "quantitative", "axis": null}, "y": {"field": "v", "type": "quantitative", "axis": null}, "text": {"field": "p"}, "color": {"field": "s", "type": "nominal", "legend": null}}},
{"data": {"name": "eT"}, "transform": [{"filter": "datum.s == 'Nb'"}], "mark": {"type": "text", "align": "right", "baseline": "middle", "dx": -10, "font": "Liberation Serif", "fontSize": 18, "fontWeight": "bold", "fontStyle": "italic"},
 "encoding": {"x": {"field": "t", "type": "quantitative", "axis": null}, "y": {"field": "v", "type": "quantitative", "axis": null}, "text": {"field": "p"}, "color": {"field": "s", "type": "nominal", "legend": null}}},
{"data": {"name": "eT"}, "transform": [{"filter": "datum.s == 'Nb'"}], "mark": {"type": "text", "align": "right", "baseline": "middle", "dx": -3, "dy": 5, "font": "Liberation Serif", "fontSize": 13, "fontWeight": "bold", "fontStyle": "italic"},
 "encoding": {"x": {"field": "t", "type": "quantitative", "axis": null}, "y": {"field": "v", "type": "quantitative", "axis": null}, "text": {"value": "b"}, "color": {"field": "s", "type": "nominal", "legend": null}}},
{"data": {"name": "eT"}, "mark": {"type": "text", "align": "left", "baseline": "middle", "font": "Liberation Serif", "fontSize": 18, "fontWeight": "bold"},
 "encoding": {"x": {"field": "t", "type": "quantitative", "axis": null}, "y": {"field": "v", "type": "quantitative", "axis": null}, "text": {"field": "q"}, "color": {"field": "s", "type": "nominal", "legend": null}}},
{"data": {"values": [{"p": "(e)", "t": 1.18, "v": 1.088}]}, "mark": {"type": "text", "align": "center", "baseline": "middle", "font": "Liberation Serif", "fontSize": 28, "fontWeight": "bold", "color": "#000000"},
 "encoding": {"x": {"field": "t", "type": "quantitative", "axis": null}, "y": {"field": "v", "type": "quantitative", "axis": null}, "text": {"field": "p"}}}
]
},
{
"width": 365, "height": 203,
"resolve": {"axis": {"x": "independent", "y": "independent"}},
"layer": [
{"data": {"name": "fL"}, "mark": {"type": "line", "interpolate": "monotone", "strokeWidth": 3},
 "encoding": {
  "x": {"field": "t", "type": "quantitative", "scale": {"domain": [0, 21.19], "range": [10, 365], "nice": false, "zero": false}, "axis": {"ticks": false, "labelOverlap": false, "values": [0,5,10,15,20], "labelExpr": "datum.value + ''"}},
  "y": {"field": "v", "type": "quantitative", "scale": {"domain": [0, 1.047], "range": [203, 3], "nice": false, "zero": false}, "axis": {"ticks": false, "labelOverlap": false, "offset": -10, "values": [0,0.5,1], "labelExpr": "datum.value + ''"}},
  "color": {"field": "s", "type": "nominal", "scale": {"domain": ["Nb","eps","L","dQ","beta"], "range": ["#ff00ff","#0a0aff","#ff0a0a","#11ee11","#000000"]}, "legend": null},
  "detail": {"field": "g", "type": "nominal"}}},
{"data": {"name": "fR"}, "mark": {"type": "rule", "strokeWidth": 3},
 "encoding": {"x": {"field": "t", "type": "quantitative", "axis": {"orient": "top", "offset": -203, "labels": false, "domain": false, "tickSize": 6, "values": [0,1,2,3,4,5,6,7,8,9,10,11,12,13,14,15,16,17,18,19,20,21]}}, "y": {"field": "v", "type": "quantitative", "axis": {"orient": "right", "offset": -355, "labels": false, "domain": false, "tickSize": 6, "values": [0,0.1,0.2,0.3,0.4,0.5,0.6,0.7,0.8,0.9,1]}}, "y2": {"field": "v2"}, "color": {"field": "s", "type": "nominal", "legend": null}}},
{"data": {"name": "fT"}, "transform": [{"filter": "datum.s != 'Nb'"}], "mark": {"type": "text", "align": "right", "baseline": "middle", "dx": -5, "font": "Liberation Serif", "fontSize": 18, "fontWeight": "bold", "fontStyle": "italic"},
 "encoding": {"x": {"field": "t", "type": "quantitative", "axis": null}, "y": {"field": "v", "type": "quantitative", "axis": null}, "text": {"field": "p"}, "color": {"field": "s", "type": "nominal", "legend": null}}},
{"data": {"name": "fT"}, "transform": [{"filter": "datum.s == 'Nb'"}], "mark": {"type": "text", "align": "right", "baseline": "middle", "dx": -10, "font": "Liberation Serif", "fontSize": 18, "fontWeight": "bold", "fontStyle": "italic"},
 "encoding": {"x": {"field": "t", "type": "quantitative", "axis": null}, "y": {"field": "v", "type": "quantitative", "axis": null}, "text": {"field": "p"}, "color": {"field": "s", "type": "nominal", "legend": null}}},
{"data": {"name": "fT"}, "transform": [{"filter": "datum.s == 'Nb'"}], "mark": {"type": "text", "align": "right", "baseline": "middle", "dx": -3, "dy": 5, "font": "Liberation Serif", "fontSize": 13, "fontWeight": "bold", "fontStyle": "italic"},
 "encoding": {"x": {"field": "t", "type": "quantitative", "axis": null}, "y": {"field": "v", "type": "quantitative", "axis": null}, "text": {"value": "b"}, "color": {"field": "s", "type": "nominal", "legend": null}}},
{"data": {"name": "fT"}, "mark": {"type": "text", "align": "left", "baseline": "middle", "font": "Liberation Serif", "fontSize": 18, "fontWeight": "bold"},
 "encoding": {"x": {"field": "t", "type": "quantitative", "axis": null}, "y": {"field": "v", "type": "quantitative", "axis": null}, "text": {"field": "q"}, "color": {"field": "s", "type": "nominal", "legend": null}}},
{"data": {"values": [{"p": "(f)", "t": 1.69, "v": 1.074}]}, "mark": {"type": "text", "align": "center", "baseline": "middle", "font": "Liberation Serif", "fontSize": 28, "fontWeight": "bold", "color": "#000000"},
 "encoding": {"x": {"field": "t", "type": "quantitative", "axis": null}, "y": {"field": "v", "type": "quantitative", "axis": null}, "text": {"field": "p"}}}
]
}
]
}
],
"config": {
"view": {"stroke": null},
"axis": {"title": null, "grid": false, "domainColor": "#000000", "domainWidth": 3, "domainCap": "square", "tickColor": "#000000", "tickWidth": 2, "labelFont": "Liberation Sans", "labelFontSize": 28, "labelColor": "#000000", "labelPadding": 3, "labelFlush": false, "labelOverlap": false},
"axisX": {"labelFlush": true}
}
}
